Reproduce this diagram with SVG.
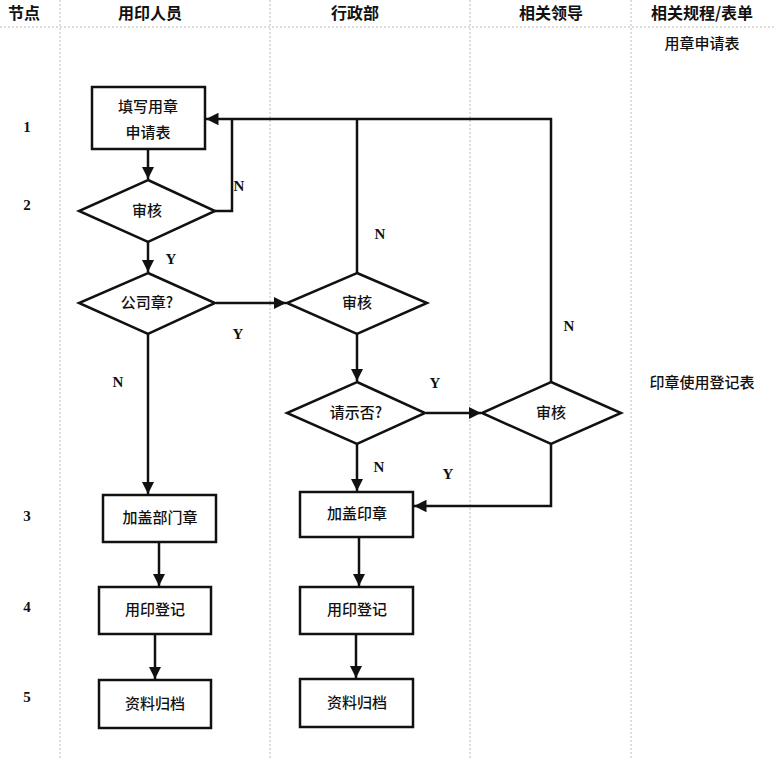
<svg xmlns="http://www.w3.org/2000/svg" width="775" height="758" viewBox="0 0 775 758">
<style>
.grid{stroke:#bbb;stroke-width:1;stroke-dasharray:2 2;fill:none}
.hd{font-family:"Noto Sans CJK SC","Liberation Sans",sans-serif;font-size:16px;font-weight:bold;fill:#111;text-anchor:middle}
.num{font-family:"Liberation Serif",serif;font-size:15px;font-weight:bold;fill:#111;text-anchor:middle}
.t{font-family:"Noto Sans CJK SC","Liberation Sans",sans-serif;font-size:15px;font-weight:500;fill:#111;text-anchor:middle}
.yn{font-family:"Liberation Serif",serif;font-size:15px;font-weight:bold;fill:#111;text-anchor:middle}
.shape{fill:#fff;stroke:#111;stroke-width:2.5}
.ln{fill:none;stroke:#111;stroke-width:2.5}
</style>
<defs>
<marker id="ah" viewBox="0 0 10 10" refX="10" refY="5" markerWidth="5" markerHeight="5" orient="auto" markerUnits="strokeWidth">
<path d="M0,0 L10,5 L0,10 z" fill="#111"/>
</marker>
</defs>
<rect width="775" height="758" fill="#fff"/>
<g id="grid">
<line class="grid" x1="0" y1="27" x2="775" y2="27"/>
<line class="grid" x1="60" y1="0" x2="60" y2="758"/>
<line class="grid" x1="270" y1="0" x2="270" y2="758"/>
<line class="grid" x1="470" y1="0" x2="470" y2="758"/>
<line class="grid" x1="631" y1="0" x2="631" y2="758"/>
</g>
<g id="header">
<text class="hd" x="24" y="19">节点</text>
<text class="hd" x="150" y="19">用印人员</text>
<text class="hd" x="355" y="19">行政部</text>
<text class="hd" x="551" y="19">相关领导</text>
<text class="hd" x="702" y="19">相关规程/表单</text>
<text class="t" x="702" y="49">用章申请表</text>
<text class="t" x="702" y="388">印章使用登记表</text>
</g>
<g id="steps">
<text class="num" x="27" y="132">1</text>
<text class="num" x="27" y="210">2</text>
<text class="num" x="27" y="521">3</text>
<text class="num" x="27" y="612">4</text>
<text class="num" x="27" y="702">5</text>
</g>
<g id="connectors">
<line class="ln" x1="148" y1="149" x2="148" y2="179" marker-end="url(#ah)"/>
<polyline class="ln" points="215,211 232,211 232,119"/>
<polyline class="ln" points="551,382 551,119 206,119" marker-end="url(#ah)"/>
<line class="ln" x1="357" y1="273" x2="357" y2="119"/>
<line class="ln" x1="148" y1="242" x2="148" y2="272" marker-end="url(#ah)"/>
<line class="ln" x1="216" y1="303" x2="286" y2="303" marker-end="url(#ah)"/>
<line class="ln" x1="357" y1="334" x2="357" y2="381" marker-end="url(#ah)"/>
<line class="ln" x1="426" y1="413" x2="481" y2="413" marker-end="url(#ah)"/>
<polyline class="ln" points="551,444 551,506 414,506" marker-end="url(#ah)"/>
<line class="ln" x1="357" y1="444" x2="357" y2="491" marker-end="url(#ah)"/>
<line class="ln" x1="148" y1="334" x2="148" y2="494" marker-end="url(#ah)"/>
<line class="ln" x1="159" y1="542" x2="159" y2="586" marker-end="url(#ah)"/>
<line class="ln" x1="155" y1="634" x2="155" y2="679" marker-end="url(#ah)"/>
<line class="ln" x1="359" y1="537" x2="359" y2="586" marker-end="url(#ah)"/>
<line class="ln" x1="356" y1="634" x2="356" y2="678" marker-end="url(#ah)"/>
<text class="yn" x="239" y="191">N</text>
<text class="yn" x="171" y="264">Y</text>
<text class="yn" x="238" y="339">Y</text>
<text class="yn" x="380" y="239">N</text>
<text class="yn" x="118" y="387">N</text>
<text class="yn" x="435" y="388">Y</text>
<text class="yn" x="569" y="331">N</text>
<text class="yn" x="379" y="472">N</text>
<text class="yn" x="448" y="479">Y</text>
</g>
<g id="n1"><rect class="shape" x="92" y="87" width="113" height="62"/><text class="t" x="148" y="112">填写用章</text><text class="t" x="148" y="138">申请表</text></g>
<g id="n2"><polygon class="shape" points="148,180 215,211 148,242 79,211"/><text class="t" x="147" y="216">审核</text></g>
<g id="n3"><polygon class="shape" points="148,273 215,303 148,334 79,303"/><text class="t" x="147" y="308">公司章?</text></g>
<g id="n4"><polygon class="shape" points="357,273 427,303 357,334 287,303"/><text class="t" x="357" y="308">审核</text></g>
<g id="n5"><polygon class="shape" points="357,382 425,413 357,444 287,413"/><text class="t" x="356" y="418">请示否?</text></g>
<g id="n6"><polygon class="shape" points="551,382 621,413 551,444 482,413"/><text class="t" x="551" y="418">审核</text></g>
<g id="n7"><rect class="shape" x="103" y="495" width="113" height="47"/><text class="t" x="160" y="523">加盖部门章</text></g>
<g id="n8"><rect class="shape" x="300" y="492" width="113" height="45"/><text class="t" x="357" y="519">加盖印章</text></g>
<g id="n9"><rect class="shape" x="99" y="587" width="112" height="47"/><text class="t" x="155" y="615">用印登记</text></g>
<g id="n10"><rect class="shape" x="300" y="587" width="113" height="47"/><text class="t" x="357" y="615">用印登记</text></g>
<g id="n11"><rect class="shape" x="99" y="680" width="112" height="48"/><text class="t" x="155" y="709">资料归档</text></g>
<g id="n12"><rect class="shape" x="300" y="679" width="113" height="48"/><text class="t" x="357" y="708">资料归档</text></g>
</svg>
